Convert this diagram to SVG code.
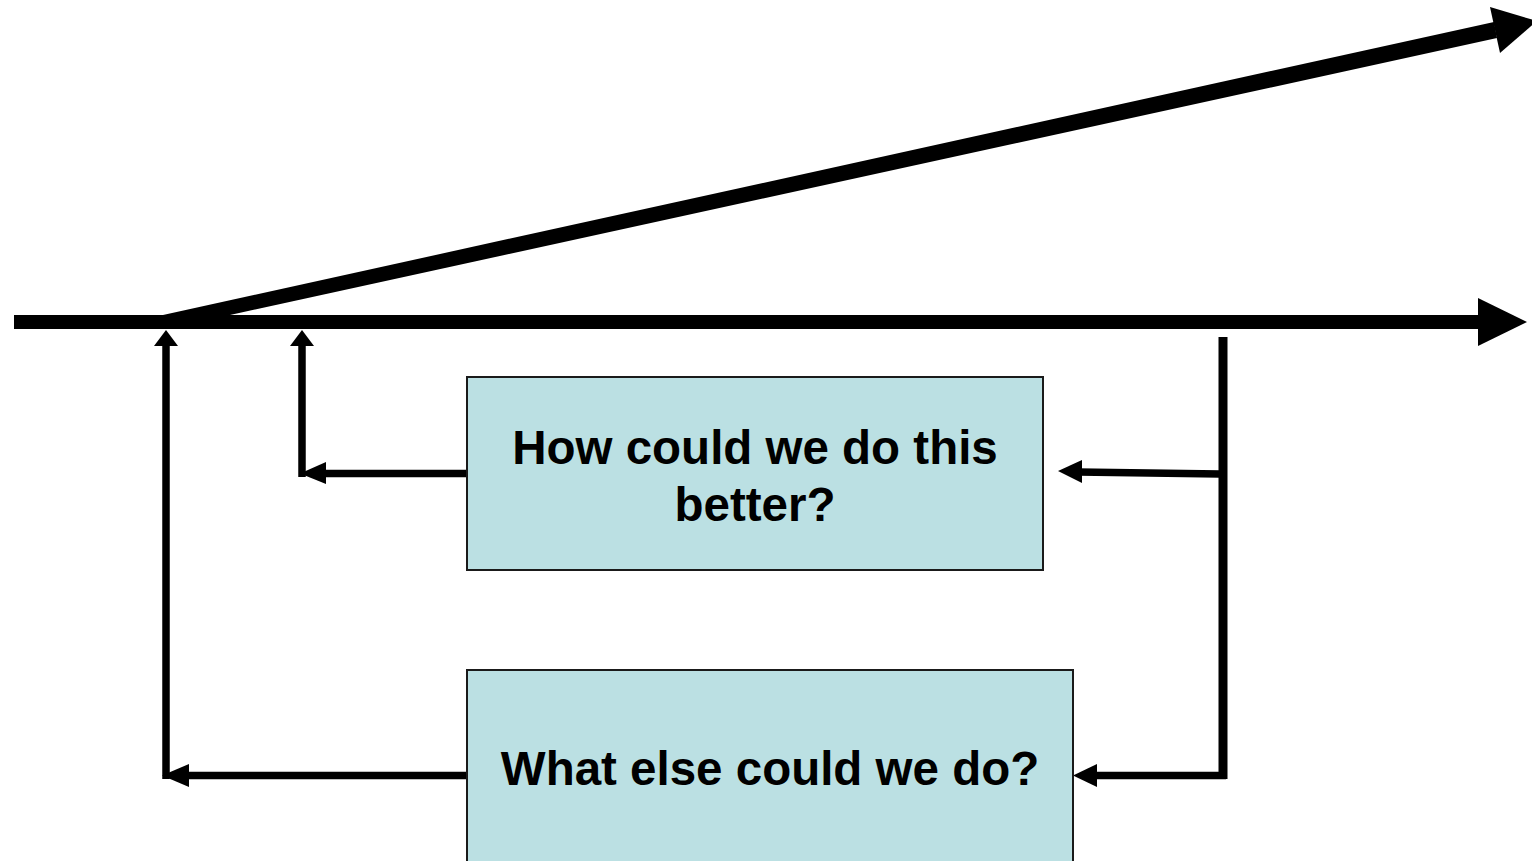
<svg xmlns="http://www.w3.org/2000/svg" width="1532" height="861" viewBox="0 0 1532 861">
<style>
.box{fill:#BBE0E3;stroke:#1a1a1a;stroke-width:2}
.lbl{font-family:"Liberation Sans",Arial,sans-serif;font-weight:bold;font-size:47.5px;fill:#000;text-anchor:middle}
.ln{stroke:#000;fill:none;stroke-linecap:butt}
.thin{stroke-width:7.5}
.head{fill:#000}
</style>
<rect width="1532" height="861" fill="#fff"/>
<g id="connectors">
  <!-- main horizontal axis -->
  <line class="ln" x1="14" y1="322" x2="1480" y2="322" stroke-width="14"/>
  <polygon class="head" points="1478,298 1527,322 1478,346"/>
  <!-- diagonal axis -->
  <polygon class="head" points="163,315 1494,22 1497,38 230,315"/>
  <polygon class="head" points="1490,7 1537,21 1500,53"/>
  <!-- left big loop -->
  <line class="ln thin" x1="166" y1="779" x2="166" y2="344"/>
  <polygon class="head" points="154,346 166,330 178,346"/>
  <line class="ln thin" x1="467" y1="775.5" x2="185" y2="775.5"/>
  <polygon class="head" points="189,764 162,775.5 189,787"/>
  <!-- left small loop -->
  <line class="ln thin" x1="302" y1="477" x2="302" y2="344"/>
  <polygon class="head" points="290,346 302,330 314,346"/>
  <line class="ln thin" x1="467" y1="473.5" x2="322" y2="473.5"/>
  <polygon class="head" points="326,462 300,473.5 326,484"/>
  <!-- right feedback line -->
  <line class="ln" x1="1223" y1="337" x2="1223" y2="779" stroke-width="9"/>
  <line class="ln thin" x1="1220" y1="474" x2="1078" y2="472"/>
  <polygon class="head" points="1082,460 1058,471 1082,483"/>
  <line class="ln thin" x1="1226" y1="775.5" x2="1093" y2="775.5"/>
  <polygon class="head" points="1097,764 1073,775.5 1097,787"/>
</g>
<g id="node-better">
  <rect class="box" x="467" y="377" width="576" height="193"/>
  <text class="lbl" x="755" y="464">How could we do this</text>
  <text class="lbl" x="755" y="521">better?</text>
</g>
<g id="node-else">
  <rect class="box" x="467" y="670" width="606" height="200"/>
  <text class="lbl" x="770" y="785">What else could we do?</text>
</g>
</svg>
